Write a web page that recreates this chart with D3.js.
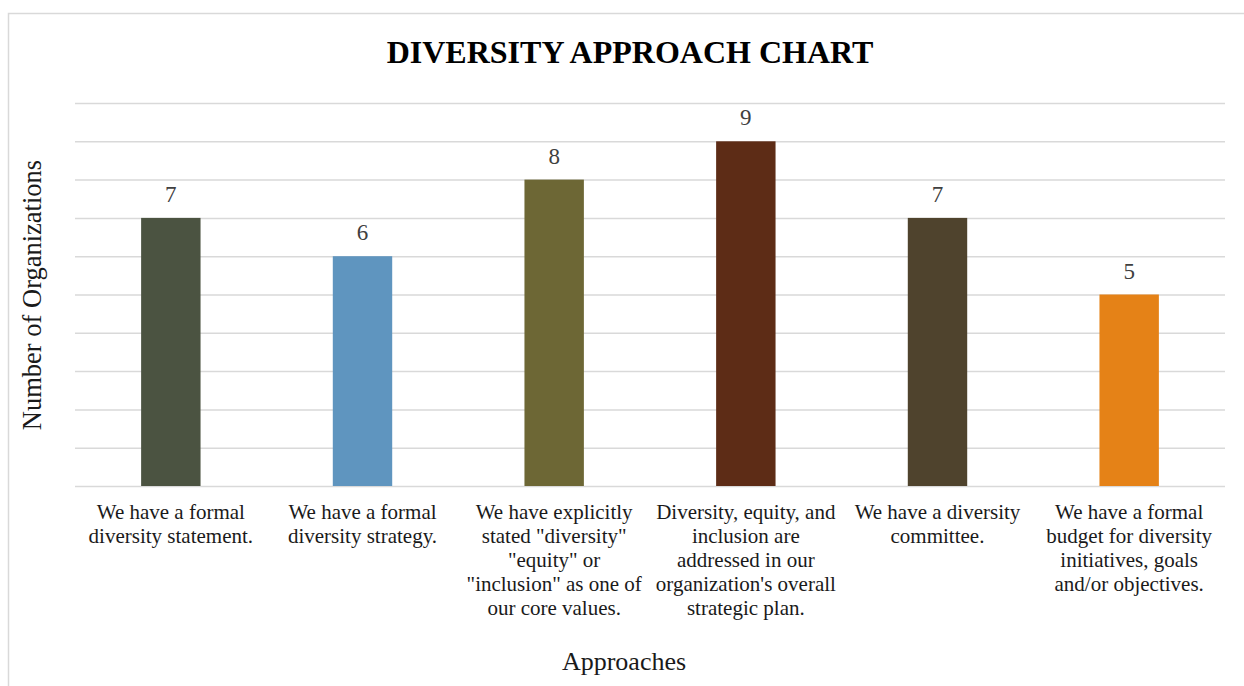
<!DOCTYPE html>
<html>
<head>
<meta charset="utf-8">
<script src="https://cdn.jsdelivr.net/npm/d3@7"></script>
<style>
  html, body { margin: 0; padding: 0; background: #fff; }
  svg { display: block; font-family: "Liberation Serif", "Times New Roman", serif; }
</style>
</head>
<body>
<svg id="chart" width="1244" height="686"></svg>
<script>
// Approaches and how many organizations reported each
const categories = [
  "We have a formal\ndiversity statement.",
  "We have a formal\ndiversity strategy.",
  "We have explicitly\nstated \"diversity\"\n\"equity\" or\n\"inclusion\" as one of\nour core values.",
  "Diversity, equity, and\ninclusion are\naddressed in our\norganization's overall\nstrategic plan.",
  "We have a diversity\ncommittee.",
  "We have a formal\nbudget for diversity\ninitiatives, goals\nand/or objectives."
];
const counts = [7, 6, 8, 9, 7, 5];
const barColors = ["#4b5341", "#5f95bf", "#6d6735", "#5d2c16", "#4f432d", "#e58217"];
const yTicks = [0, 1, 2, 3, 4, 5, 6, 7, 8, 9, 10];

const svg = d3.select("#chart");
const plot = { left: 75, right: 1225, top: 103, bottom: 486 };

// Chart frame
svg.append("rect")
  .attr("x", 8.5).attr("y", 13.5)
  .attr("width", 1250).attr("height", 700)
  .attr("fill", "none").attr("stroke", "#d9d9d9").attr("stroke-width", 1.5);

const x = d3.scaleBand()
  .domain(d3.range(categories.length))
  .range([plot.left, plot.right])
  .paddingInner(0.69).paddingOuter(0.345);

const y = d3.scaleLinear().domain([0, 10]).range([plot.bottom, plot.top]);

// Horizontal gridlines
svg.append("g")
  .attr("transform", `translate(${plot.left},0)`)
  .call(d3.axisLeft(y).tickValues(yTicks).tickSize(-(plot.right - plot.left)).tickFormat(""))
  .call(g => g.select(".domain").remove())
  .call(g => g.selectAll(".tick line").attr("stroke", "#d9d9d9").attr("stroke-width", 1.5));

// Bars
svg.append("g").selectAll("rect")
  .data(counts)
  .join("rect")
  .attr("x", (d, i) => x(i))
  .attr("y", d => y(d))
  .attr("width", x.bandwidth())
  .attr("height", d => y(0) - y(d))
  .attr("fill", (d, i) => barColors[i]);

// Value labels
svg.append("g").selectAll("text")
  .data(counts)
  .join("text")
  .attr("x", (d, i) => x(i) + x.bandwidth() / 2)
  .attr("y", d => y(d) - 16)
  .attr("text-anchor", "middle")
  .attr("font-size", 23)
  .attr("fill", "#404040")
  .text(d => d);

// Category labels
const catG = svg.append("g").selectAll("text")
  .data(categories)
  .join("text")
  .attr("text-anchor", "middle")
  .attr("font-size", 21)
  .attr("fill", "#1a1a1a");
catG.each(function(d, i) {
  const t = d3.select(this);
  const cx = x(i) + x.bandwidth() / 2;
  d.split("\n").forEach((line, k) => {
    t.append("tspan").attr("x", cx).attr("y", 519 + k * 24).text(line);
  });
});

// Title
svg.append("text")
  .attr("x", 630).attr("y", 63)
  .attr("text-anchor", "middle")
  .attr("font-size", 32).attr("font-weight", "bold")
  .attr("fill", "#000")
  .text("DIVERSITY APPROACH CHART");

// Axis titles
svg.append("text")
  .attr("transform", "translate(41,295) rotate(-90)")
  .attr("text-anchor", "middle")
  .attr("font-size", 26.5)
  .attr("fill", "#1a1a1a")
  .text("Number of Organizations");

svg.append("text")
  .attr("x", 624).attr("y", 670)
  .attr("text-anchor", "middle")
  .attr("font-size", 26)
  .attr("fill", "#1a1a1a")
  .text("Approaches");
</script>
</body>
</html>
